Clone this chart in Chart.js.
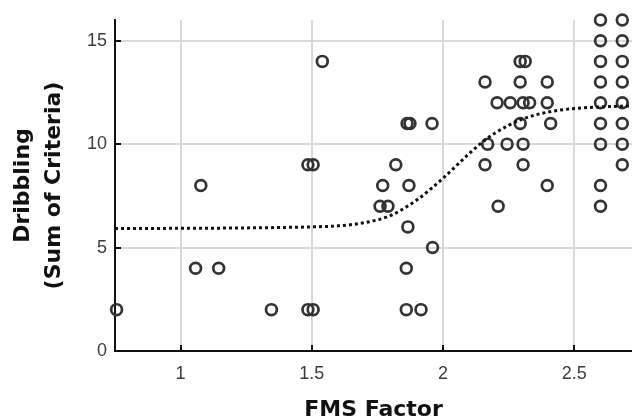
<!DOCTYPE html>
<html lang="en">
<head>
    <meta charset="UTF-8">
    <title>Dribbling vs FMS Factor</title>
    <script src="https://cdn.jsdelivr.net/npm/chart.js"></script>
    <style>
        body {
            margin: 0;
            padding: 0;
            background: #ffffff;
        }
        .wrap {
            width: 632px;
            height: 419px;
        }
    </style>
</head>
<body>
    <div class="wrap">
        <canvas id="scatterChart" width="632" height="419"></canvas>
    </div>

    <script>
        // observed scores (FMS factor, dribbling sum)
        const fmsX = [
            0.756, 1.057, 1.145, 1.077, 1.346, 1.485, 1.505, 1.485, 1.505, 1.54,
            1.76, 1.79, 1.77, 1.82, 1.863, 1.874, 1.958, 1.87, 1.866, 1.96,
            1.86, 1.86, 1.916,
            2.294, 2.313, 2.16, 2.294, 2.397, 2.206, 2.256, 2.305, 2.33, 2.397,
            2.294, 2.41, 2.17, 2.244, 2.305, 2.16, 2.305, 2.397, 2.21,
            2.6, 2.6, 2.6, 2.6, 2.6, 2.6, 2.6, 2.6, 2.6,
            2.683, 2.683, 2.683, 2.683, 2.683, 2.683, 2.683, 2.683
        ];
        const dribY = [
            2, 4, 4, 8, 2, 2, 2, 9, 9, 14,
            7, 7, 8, 9, 11, 11, 11, 8, 6, 5,
            4, 2, 2,
            14, 14, 13, 13, 13, 12, 12, 12, 12, 12,
            11, 11, 10, 10, 10, 9, 9, 8, 7,
            16, 15, 14, 13, 12, 11, 10, 8, 7,
            16, 15, 14, 13, 12, 11, 10, 9
        ];

        // fitted curve
        const fitX = [0.75, 1.0, 1.25, 1.5, 1.6, 1.7, 1.8, 1.9, 1.95, 2.0, 2.05, 2.1, 2.15, 2.2, 2.3, 2.4, 2.5, 2.6, 2.72];
        const fitY = [5.92, 5.93, 5.95, 6.0, 6.05, 6.2, 6.55, 7.3, 7.8, 8.35, 8.95, 9.55, 10.1, 10.55, 11.2, 11.55, 11.72, 11.8, 11.85];

        const xTicks = [1, 1.5, 2, 2.5];
        const yTicks = [0, 5, 10, 15];

        const points = fmsX.map((x, i) => ({ x: x, y: dribY[i] }));
        const fitLine = fitX.map((x, i) => ({ x: x, y: fitY[i] }));

        // small tick marks pointing into the plot
        const innerTicks = {
            id: 'innerTicks',
            beforeDatasetsDraw(chart) {
                const c = chart.ctx;
                const area = chart.chartArea;
                const sx = chart.scales.x;
                const sy = chart.scales.y;
                c.save();
                c.strokeStyle = '#111';
                c.lineWidth = 2;
                xTicks.forEach(v => {
                    const px = Math.round(sx.getPixelForValue(v));
                    c.beginPath();
                    c.moveTo(px, area.bottom);
                    c.lineTo(px, area.bottom - 6);
                    c.stroke();
                });
                yTicks.forEach(v => {
                    const py = Math.round(sy.getPixelForValue(v));
                    c.beginPath();
                    c.moveTo(area.left, py);
                    c.lineTo(area.left + 6, py);
                    c.stroke();
                });
                c.restore();
            }
        };

        const ctx = document.getElementById('scatterChart').getContext('2d');
        new Chart(ctx, {
            type: 'scatter',
            data: {
                datasets: [
                    {
                        type: 'line',
                        data: fitLine,
                        borderColor: '#111',
                        borderWidth: 3,
                        borderDash: [3, 3],
                        pointRadius: 0,
                        fill: false,
                        cubicInterpolationMode: 'monotone'
                    },
                    {
                        data: points,
                        pointRadius: 5.4,
                        pointBorderWidth: 2.7,
                        borderColor: '#333',
                        backgroundColor: 'rgba(255,255,255,0)',
                        clip: false
                    }
                ]
            },
            options: {
                responsive: false,
                animation: false,
                layout: { autoPadding: false, padding: { top: 20, right: 0, left: 0, bottom: 0 } },
                plugins: {
                    legend: { display: false },
                    tooltip: { enabled: false }
                },
                scales: {
                    x: {
                        type: 'linear',
                        min: 0.75,
                        max: 2.72,
                        afterBuildTicks: s => { s.ticks = xTicks.map(v => ({ value: v })); },
                        afterFit: s => { s.height = 68; },
                        grid: { color: '#d9d9d9', lineWidth: 2, drawTicks: false },
                        border: { display: true, color: '#111', width: 2 },
                        ticks: {
                            padding: 12,
                            color: '#3c3c3c',
                            font: { family: 'Liberation Sans', size: 18 },
                            callback: v => String(v)
                        },
                        title: {
                            display: true,
                            text: 'FMS Factor',
                            color: '#111',
                            padding: 0,
                            font: { family: 'DejaVu Sans', size: 22, weight: 'bold', lineHeight: '18px' }
                        }
                    },
                    y: {
                        min: 0,
                        max: 16,
                        afterBuildTicks: s => { s.ticks = yTicks.map(v => ({ value: v })); },
                        afterFit: s => { s.width = 115; },
                        grid: { color: '#d9d9d9', lineWidth: 2, drawTicks: false },
                        border: { display: true, color: '#111', width: 2 },
                        ticks: {
                            padding: 8,
                            color: '#3c3c3c',
                            font: { family: 'Liberation Sans', size: 18 },
                            callback: v => String(v)
                        },
                        title: {
                            display: true,
                            text: ['Dribbling', '(Sum of Criteria)'],
                            color: '#111',
                            padding: { top: 8, bottom: 0 },
                            font: { family: 'DejaVu Sans', size: 22, weight: 'bold', lineHeight: '31px' }
                        }
                    }
                }
            },
            plugins: [innerTicks]
        });
    </script>
</body>
</html>
